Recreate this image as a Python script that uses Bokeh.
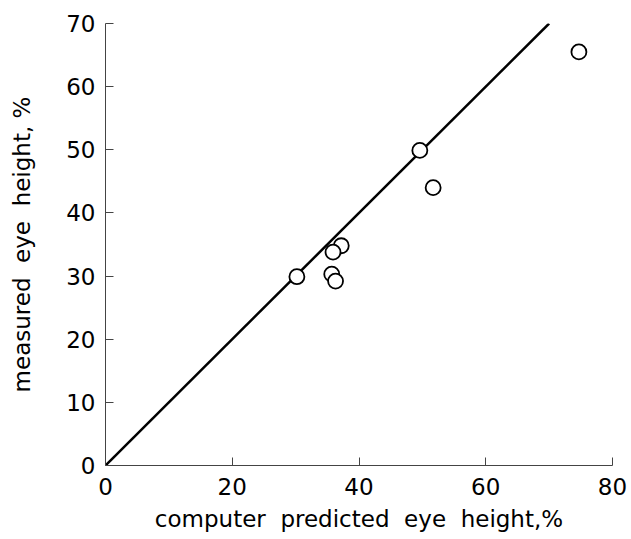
from bokeh.plotting import figure
from bokeh.models import Range1d, FixedTicker
from bokeh.embed import file_html
from bokeh.resources import INLINE

# Data
predicted = [30.2, 49.6, 51.7, 37.2, 35.9, 35.7, 36.3, 74.7]
measured = [29.9, 49.9, 44.0, 34.8, 33.8, 30.3, 29.2, 65.5]
line_x = [0, 70]
line_y = [0, 70]
x_ticks = [0, 20, 40, 60, 80]
y_ticks = [0, 10, 20, 30, 40, 50, 60, 70]

FONT = "DejaVu Sans"
SP = "\u00a0\u00a0"

p = figure(width=631, height=539, output_backend="svg", toolbar_location=None,
           x_range=Range1d(0, 80), y_range=Range1d(0, 70),
           min_border_left=105, min_border_right=19, min_border_top=23, min_border_bottom=74)
p.background_fill_color = "white"
p.border_fill_color = "white"
p.outline_line_color = None
p.xgrid.visible = False
p.ygrid.visible = False

p.line(line_x, line_y, line_color="black", line_width=2.5)
p.scatter(predicted, measured, size=15, fill_color="white", line_color="black", line_width=1.8)

for ax, ticks in ((p.xaxis[0], x_ticks), (p.yaxis[0], y_ticks)):
    ax.ticker = FixedTicker(ticks=ticks)
    ax.minor_tick_line_color = None
    ax.major_tick_in = 8
    ax.major_tick_out = 0
    ax.axis_line_color = "#444444"
    ax.axis_line_width = 1
    ax.major_tick_line_color = "#444444"
    ax.major_tick_line_width = 1
    ax.major_label_text_font = FONT
    ax.major_label_text_font_size = "23px"
    ax.major_label_text_color = "black"
    ax.axis_label_text_font = FONT
    ax.axis_label_text_font_size = "23px"
    ax.axis_label_text_font_style = "normal"
    ax.axis_label_text_color = "black"

p.xaxis.axis_label = "computer" + SP + "predicted" + SP + "eye" + SP + "height,%"
p.yaxis.axis_label = "measured" + SP + "eye" + SP + "height,\u00a0%"
p.xaxis.major_label_standoff = 12
p.yaxis.major_label_standoff = 10
p.xaxis.axis_label_standoff = 8
p.yaxis.axis_label_standoff = 28

open("out.html", "w").write(file_html(p, INLINE))
